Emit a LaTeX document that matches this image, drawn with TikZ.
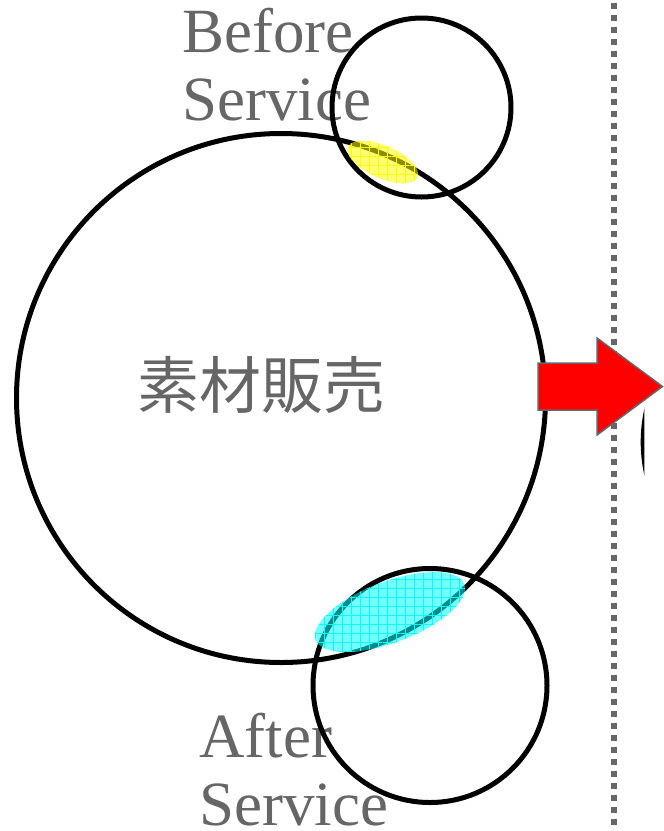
\documentclass[tikz,border=0pt]{standalone}
\usepackage{fontspec}
\newfontfamily\lserif{Liberation Serif}
\newfontfamily\cjkfont{Noto Sans CJK JP}
\usetikzlibrary{shapes.geometric,patterns.meta}
\definecolor{txtgray}{HTML}{666666}
\definecolor{dotgray}{HTML}{666666}
\definecolor{lensyellow}{RGB}{255,255,0}
\definecolor{lensaqua}{RGB}{0,255,255}
\definecolor{arrowred}{RGB}{255,0,0}
\begin{document}
\begin{tikzpicture}[x=1pt,y=-1pt,
  ring/.style={circle, draw=black, line width=5pt, inner sep=0pt, outer sep=0pt},
  lbl/.style={font=\lserif\fontsize{63}{68}\selectfont, text=txtgray, align=left, inner sep=0pt, anchor=base west},
  lens/.style={ellipse, inner sep=0pt, outer sep=0pt, draw=none,
    preaction={fill=#1, fill opacity=0.55},
    pattern={Hatch[angle=0,distance=9pt,line width=0.7pt]}, pattern color=#1}]
\useasboundingbox (0,0) rectangle (664,831);
% dotted divider
\draw[dotgray, line width=6pt, dash pattern=on 6pt off 6pt, dash phase=9.3pt] (613.5,0) -- (613.5,831);
% partially visible circle on the right
\begin{scope}
  \clip (630,380) rectangle (644.3,500);
  \draw[line width=5pt] (793.2,442) circle (150pt);
\end{scope}
% labels (anchor at the baseline of the last line)
\node[lbl] (before) at (182,120) {Before\\Service};
\node[lbl] (after) at (199,825) {After\\Service};
\node[font=\cjkfont\fontsize{62}{62}\selectfont, text=txtgray, inner sep=0pt] (maintext) at (261.5,385) {素材販売};
% circles
\node[ring, minimum size=529pt] (main) at (281,398) {};
\node[ring, minimum size=179pt] (top) at (421.5,107.5) {};
\node[ring, minimum size=234pt] (bottom) at (430,685.5) {};
% overlap lenses
\node[lens=lensyellow, minimum width=76pt, minimum height=32.4pt, rotate=-23.7] (ylens) at (382.8,162) {};
\node[lens=lensaqua, minimum width=158.6pt, minimum height=61pt, rotate=20.6] (clens) at (390,612) {};
% red arrow
\draw[fill=arrowred, draw=dotgray, line width=1.5pt] (538,363) -- (597,363) -- (597,338) -- (662.5,386.5) -- (597,435) -- (597,410) -- (538,410) -- cycle;
\end{tikzpicture}
\end{document}
